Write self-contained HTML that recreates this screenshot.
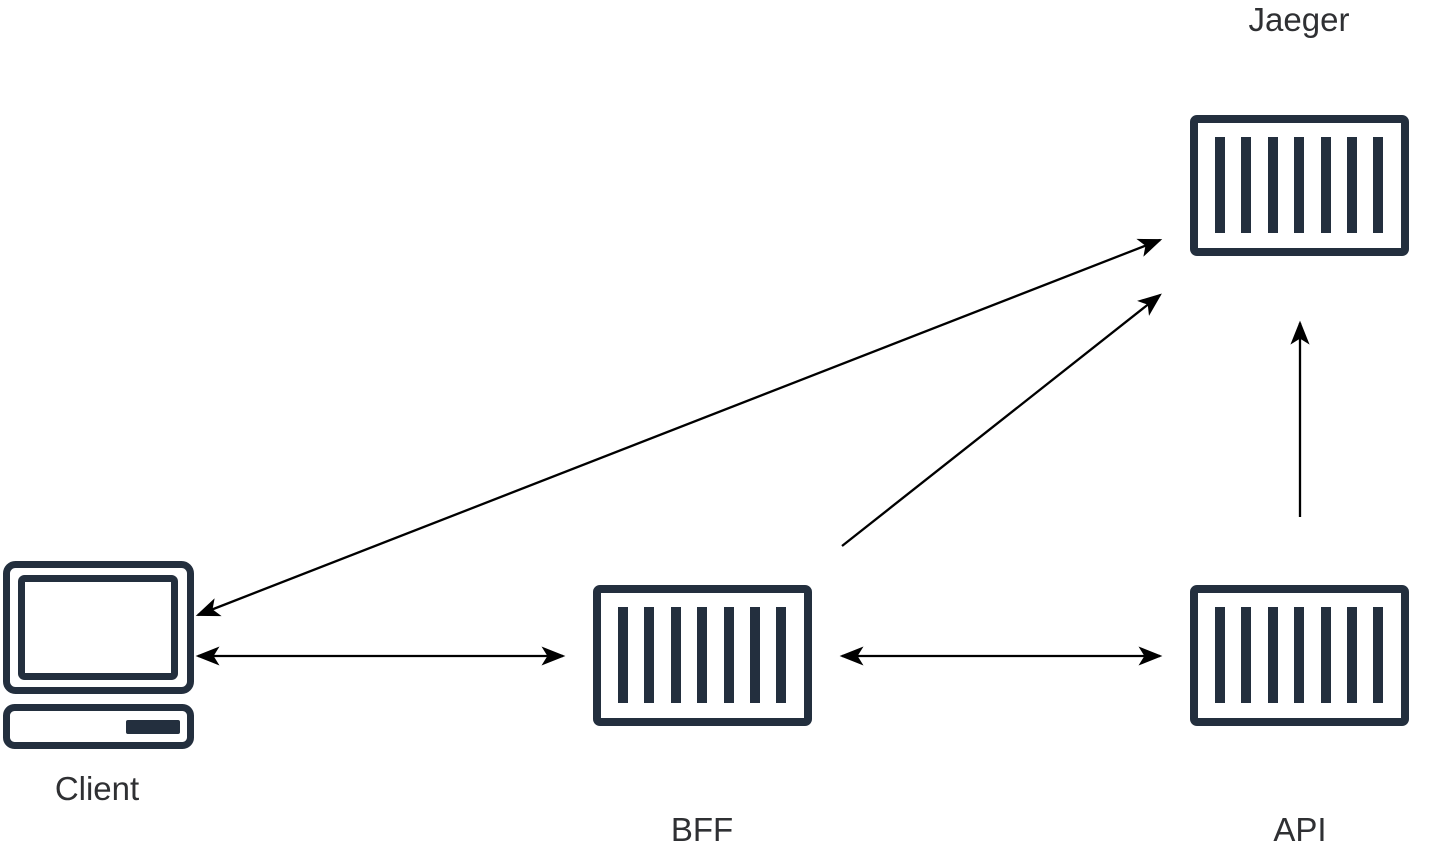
<!DOCTYPE html>
<html><head><meta charset="utf-8"><style>
html,body{margin:0;padding:0;background:#fff;width:1440px;height:851px;overflow:hidden}
svg{display:block}
text{font-family:"Liberation Sans",Arial,sans-serif;font-size:33px;fill:#2f3033}
</style></head><body>
<svg width="1440" height="851" viewBox="0 0 1440 851" xmlns="http://www.w3.org/2000/svg">
<defs>
<marker id="a" viewBox="0 0 20 20" refX="18" refY="10" markerWidth="24" markerHeight="24" markerUnits="userSpaceOnUse" orient="auto-start-reverse">
<path d="M0,2 L20,10 L0,18 L5,10 Z" fill="#000"/>
</marker>
<g id="box">
<rect x="4" y="4" width="211" height="133" rx="3" fill="#fff" stroke="#232f3e" stroke-width="8"/>
<g fill="#232f3e">
<rect x="25" y="22" width="10" height="96"/>
<rect x="51" y="22" width="10" height="96"/>
<rect x="78" y="22" width="10" height="96"/>
<rect x="104" y="22" width="10" height="96"/>
<rect x="131" y="22" width="10" height="96"/>
<rect x="157" y="22" width="10" height="96"/>
<rect x="183" y="22" width="10" height="96"/>
</g>
</g>
</defs>
<use href="#box" x="1190" y="115"/>
<use href="#box" x="593" y="585"/>
<use href="#box" x="1190" y="585"/>
<g fill="none" stroke="#232f3e" stroke-width="7">
<rect x="6.5" y="564.5" width="184" height="126" rx="9"/>
<rect x="21.5" y="578.5" width="153" height="98" rx="3"/>
<rect x="6.5" y="707.5" width="184" height="38" rx="8"/>
</g>
<rect x="126" y="720" width="54" height="14" rx="2" fill="#232f3e"/>
<g stroke="#000" stroke-width="2.3" fill="none">
<line x1="198" y1="615" x2="1160" y2="240" marker-start="url(#a)" marker-end="url(#a)"/>
<line x1="198" y1="656" x2="563" y2="656" marker-start="url(#a)" marker-end="url(#a)"/>
<line x1="842" y1="656" x2="1160" y2="656" marker-start="url(#a)" marker-end="url(#a)"/>
<line x1="842" y1="546" x2="1160" y2="295" marker-end="url(#a)"/>
<line x1="1300" y1="517" x2="1300" y2="323" marker-end="url(#a)"/>
</g>
<text x="1299" y="31" text-anchor="middle">Jaeger</text>
<text x="97" y="800" text-anchor="middle">Client</text>
<text x="702" y="841" text-anchor="middle">BFF</text>
<text x="1300" y="841" text-anchor="middle">API</text>
</svg>
</body></html>
